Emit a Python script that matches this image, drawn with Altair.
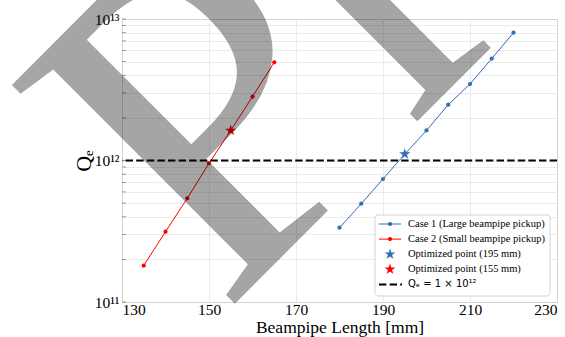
import math
import altair as alt
import pandas as pd

# ---- data ----
case1_x = [180, 185, 190, 195, 200, 205, 210, 215, 220]
case1_q = [3.35e11, 4.95e11, 7.4e11, 1.11e12, 1.63e12, 2.48e12, 3.47e12, 5.25e12, 8.0e12]
case2_x = [135, 140, 145, 150, 155, 160, 165]
case2_q = [1.81e11, 3.14e11, 5.4e11, 9.55e11, 1.63e12, 2.83e12, 4.94e12]
opt1_x, opt1_q = [195], [1.11e12]
opt2_x, opt2_q = [155], [1.63e12]
threshold = [1e12]

legend_labels = [
    "Case 1 (Large beampipe pickup)",
    "Case 2 (Small beampipe pickup)",
    "Optimized point (195 mm)",
    "Optimized point (155 mm)",
    "Qₑ = 1 × 10¹²",
]
legend_kinds = ["line", "line", "star", "star", "dash"]
x_ticks = [130, 150, 170, 190, 210, 230]
y_all = [float(m * 10 ** e) for e in (11, 12) for m in range(1, 10)] + [1e13]

BLUE = "#2f6eb8"
RED = "#ff0000"
legend_colors = [BLUE, RED, BLUE, RED, "black"]
SERIF = "Liberation Serif"
legend_fonts = [SERIF, SERIF, SERIF, SERIF, "DejaVu Sans"]
legend_sizes = [10.5, 10.5, 10.5, 10.5, 10]


def star_path(ratio=0.381966):
    pts = []
    for k in range(10):
        r = 1.0 if k % 2 == 0 else ratio
        a = -math.pi / 2 + k * math.pi / 5
        pts.append(f"{r * math.cos(a):.4f},{r * math.sin(a):.4f}")
    return "M" + "L".join(pts) + "Z"


STAR = star_path()

xenc = alt.X("x:Q", scale=alt.Scale(domain=[130, 230], nice=False, zero=False),
             axis=alt.Axis(values=x_ticks, title="Beampipe Length [mm]"))
yenc = alt.Y("q:Q", scale=alt.Scale(type="log", domain=[1e11, 1e13], nice=False),
             axis=alt.Axis(values=y_all, title="Qₑ",
                           labelExpr="datum.value == 100000000000 ? '10¹¹' : datum.value == 1000000000000 ? '10¹²' : datum.value == 10000000000000 ? '10¹³' : ''"))

c1 = alt.Chart(pd.DataFrame({"x": case1_x, "q": case1_q}))
c2 = alt.Chart(pd.DataFrame({"x": case2_x, "q": case2_q}))
line1 = c1.mark_line(color=BLUE, strokeWidth=1).encode(x=xenc, y=yenc)
line2 = c2.mark_line(color=RED, strokeWidth=1).encode(x="x:Q", y="q:Q")
dot1 = c1.mark_circle(color=BLUE, size=18, opacity=1).encode(x="x:Q", y="q:Q")
dot2 = c2.mark_circle(color=RED, size=18, opacity=1).encode(x="x:Q", y="q:Q")
star1 = alt.Chart(pd.DataFrame({"x": opt1_x, "q": opt1_q})).mark_point(
    shape=STAR, filled=True, color=BLUE, size=140, opacity=1).encode(x="x:Q", y="q:Q")
star2 = alt.Chart(pd.DataFrame({"x": opt2_x, "q": opt2_q})).mark_point(
    shape=STAR, filled=True, color=RED, size=140, opacity=1).encode(x="x:Q", y="q:Q")
rule = alt.Chart(pd.DataFrame({"q": threshold})).mark_rule(
    color="black", strokeWidth=2, strokeDash=[7.4, 3.2]).encode(y="q:Q")

# inward minor ticks on the left frame
ticks = alt.Chart(pd.DataFrame({"q": y_all})).mark_tick(
    orient="horizontal", size=4, thickness=0.8, color="#555555", xOffset=2).encode(
    y="q:Q", x=alt.datum(130))

# ---- legend built from marks ----
one = pd.DataFrame({"k": [0]})
LX0, LX1, LY0, LY1 = 253, 428, 196, 277
SYM_C, SYM_HALF, TXT_X = 268, 11, 286
ROW0, ROWSTEP = 205, 15.1

legend_layers = [
    alt.Chart(one).mark_rect(fill="white", stroke="#d4d4d4", strokeWidth=1, cornerRadius=3).encode(
        x=alt.value(LX0), x2=alt.value(LX1), y=alt.value(LY0), y2=alt.value(LY1))
]
for i, (lab, kind, col, fnt, fsz) in enumerate(
        zip(legend_labels, legend_kinds, legend_colors, legend_fonts, legend_sizes)):
    yy = ROW0 + i * ROWSTEP
    if kind == "line":
        legend_layers.append(alt.Chart(one).mark_rule(color=col, strokeWidth=1).encode(
            x=alt.value(SYM_C - SYM_HALF), x2=alt.value(SYM_C + SYM_HALF), y=alt.value(yy)))
        legend_layers.append(alt.Chart(one).mark_circle(color=col, size=18, opacity=1).encode(
            x=alt.value(SYM_C), y=alt.value(yy)))
    elif kind == "star":
        legend_layers.append(alt.Chart(one).mark_point(shape=STAR, filled=True, color=col,
                                                       size=130, opacity=1).encode(
            x=alt.value(SYM_C), y=alt.value(yy)))
    else:
        legend_layers.append(alt.Chart(one).mark_rule(color=col, strokeWidth=2,
                                                      strokeDash=[7.4, 3.2]).encode(
            x=alt.value(SYM_C - SYM_HALF), x2=alt.value(SYM_C + SYM_HALF + 1), y=alt.value(yy)))
    legend_layers.append(alt.Chart(pd.DataFrame({"t": [lab]})).mark_text(
        font=fnt, fontSize=fsz, align="left", baseline="middle", color="black").encode(
        text="t:N", x=alt.value(TXT_X), y=alt.value(yy)))

# ---- watermark ----
watermark = alt.Chart(pd.DataFrame({"t": ["Preprint"]})).mark_text(
    font=SERIF, fontSize=477, angle=315, align="left", baseline="alphabetic",
    color="black", opacity=0.35).encode(text="t:N", x=alt.value(101), y=alt.value(296.5))

chart = alt.layer(line1, line2, dot1, dot2, star1, star2, rule, ticks,
                  *legend_layers, watermark).properties(
    width=435, height=283,
    padding={"left": 122, "top": 19, "right": 8, "bottom": 35},
    autosize=alt.AutoSizeParams(type="none"),
    background="white",
).configure_view(stroke="#8a8a8a", strokeWidth=1).configure_axis(
    domain=False, ticks=False, grid=True, gridColor="#e6e6e6", gridWidth=0.8,
    labelFont=SERIF, labelFontSize=15.5, labelColor="black",
    titleFont=SERIF, titleFontWeight="normal", titleColor="black",
).configure_axisX(labelPadding=0, titleFontSize=17.5, titleY=30,
                  titleBaseline="alphabetic").configure_axisY(
    labelPadding=3, titleFontSize=22, titleX=-39, titleBaseline="middle", labelBaseline="middle")

chart.save("out.html", embed_options={"renderer": "svg", "actions": False})
